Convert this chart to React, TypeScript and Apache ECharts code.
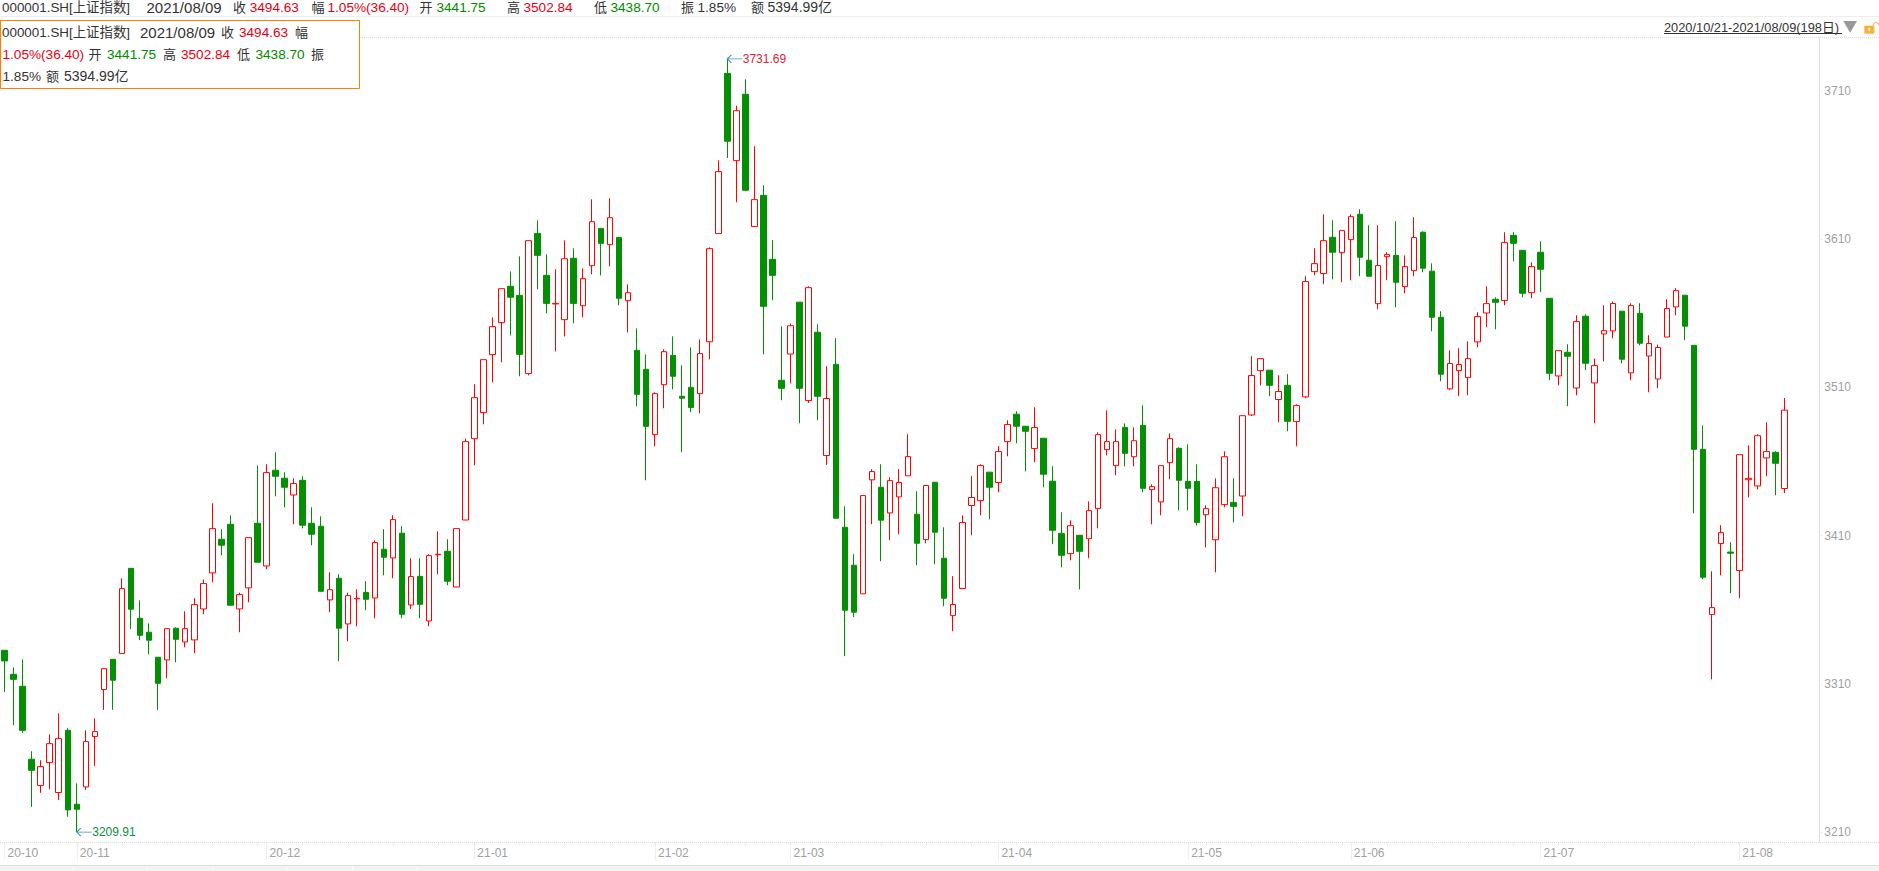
import React, { useEffect, useRef } from "react";
import * as echarts from "echarts";

const tradingDays: [string, number[]][] = [
  ["20-10", [21, 22, 23, 26, 27, 28, 29, 30]],
  ["20-11", [2, 3, 4, 5, 6, 9, 10, 11, 12, 13, 16, 17, 18, 19, 20, 23, 24, 25, 26, 27, 30]],
  ["20-12", [1, 2, 3, 4, 7, 8, 9, 10, 11, 14, 15, 16, 17, 18, 21, 22, 23, 24, 25, 28, 29, 30, 31]],
  ["21-01", [4, 5, 6, 7, 8, 11, 12, 13, 14, 15, 18, 19, 20, 21, 22, 25, 26, 27, 28, 29]],
  ["21-02", [1, 2, 3, 4, 5, 8, 9, 10, 18, 19, 22, 23, 24, 25, 26]],
  ["21-03", [1, 2, 3, 4, 5, 8, 9, 10, 11, 12, 15, 16, 17, 18, 19, 22, 23, 24, 25, 26, 29, 30, 31]],
  ["21-04", [1, 2, 6, 7, 8, 9, 12, 13, 14, 15, 16, 19, 20, 21, 22, 23, 26, 27, 28, 29, 30]],
  ["21-05", [6, 7, 10, 11, 12, 13, 14, 17, 18, 19, 20, 21, 24, 25, 26, 27, 28, 31]],
  ["21-06", [1, 2, 3, 4, 7, 8, 9, 10, 11, 15, 16, 17, 18, 21, 22, 23, 24, 25, 28, 29, 30]],
  ["21-07", [1, 2, 5, 6, 7, 8, 9, 12, 13, 14, 15, 16, 19, 20, 21, 22, 23, 26, 27, 28, 29, 30]],
  ["21-08", [2, 3, 4, 5, 6, 9]],
];
const weekStarts = [8, 13, 18, 23, 28, 33, 38, 43, 48, 52, 57, 62, 67, 72, 77, 80, 82, 87, 92, 97, 102, 107, 112, 116, 121, 126, 133, 138, 143, 148, 153, 158, 162, 167, 172, 177, 182, 187, 192, 197];
const priceTicks = [3210, 3310, 3410, 3510, 3610, 3710];
const lowestPoint = { index: 8, value: 3209.91 };
const highestPoint = { index: 80, value: 3731.69 };

// [open, close, low, high]
const k2010 = [[3332.6,3325.4,3304.5,3332.6],[3316.4,3313.0,3282.0,3321.1],[3308.3,3278.6,3276.8,3326.5],[3259.1,3251.6,3226.9,3264.5],[3241.3,3254.1,3236.4,3258.4],[3256.8,3269.6,3238.8,3275.9],[3236.6,3273.0,3231.6,3290.1],[3278.6,3224.9,3220.2,3280.0]];
const k2011 = [[3228.7,3225.3,3209.91,3242.9],[3240.4,3271.0,3238.4,3278.6],[3274.4,3277.7,3254.6,3286.7],[3306.1,3320.2,3292.4,3320.2],[3326.5,3312.4,3292.4,3326.5],[3330.4,3374.2,3330.4,3381.2],[3387.9,3360.3,3346.8,3387.9],[3354.2,3342.7,3339.4,3366.3],[3344.8,3339.4,3329.9,3350.8],[3327.9,3310.3,3292.4,3327.9],[3326.1,3347.2,3313.7,3347.2],[3347.5,3340.0,3324.5,3348.1],[3338.2,3347.2,3334.6,3358.9],[3339.6,3363.4,3330.6,3367.7],[3360.5,3377.6,3356.9,3380.3],[3384.8,3414.7,3378.5,3431.8],[3407.5,3403.5,3396.7,3414.3],[3417.6,3363.0,3363.0,3423.7],[3360.5,3370.2,3344.8,3371.5],[3374.7,3408.6,3365.0,3408.6],[3418.3,3392.0,3392.0,3457.4]];
const k2012 = [[3389.5,3452.5,3387.3,3458.1],[3454.1,3450.0,3436.5,3466.2],[3448.7,3442.6,3429.1,3452.7],[3437.4,3445.1,3417.6,3448.7],[3447.3,3417.0,3414.9,3450.0],[3418.3,3410.9,3403.5,3429.1],[3416.3,3372.4,3372.4,3423.0],[3366.6,3373.5,3358.3,3385.2],[3381.2,3347.5,3325.2,3383.9],[3350.4,3369.5,3338.7,3371.5],[3367.3,3367.7,3348.8,3373.8],[3371.7,3367.0,3359.6,3379.2],[3367.9,3405.3,3354.2,3406.8],[3400.8,3395.4,3383.2,3414.3],[3394.9,3420.8,3381.2,3423.7],[3411.6,3356.9,3354.2,3416.3],[3363.2,3382.3,3360.3,3394.7],[3382.5,3363.6,3354.2,3394.7],[3352.4,3396.5,3348.8,3397.4],[3397.0,3397.4,3383.9,3412.9],[3399.4,3379.2,3376.5,3407.5],[3375.3,3414.7,3375.3,3414.7],[3420.5,3473.4,3420.5,3475.4]];
const k2101 = [[3475.4,3503.1,3457.4,3512.1],[3493.0,3528.7,3485.1,3528.7],[3532.1,3551.0,3513.4,3557.3],[3553.7,3576.6,3526.9,3576.6],[3578.2,3570.8,3545.1,3588.3],[3572.1,3532.3,3517.5,3598.4],[3519.3,3609.0,3518.1,3609.0],[3613.9,3599.1,3576.2,3622.7],[3585.6,3566.7,3560.0,3599.8],[3566.3,3566.7,3534.3,3589.7],[3555.7,3596.8,3544.4,3609.2],[3597.1,3566.7,3553.2,3603.8],[3565.1,3583.4,3557.3,3590.3],[3592.1,3621.8,3586.3,3636.9],[3617.3,3607.2,3585.6,3617.3],[3606.3,3624.5,3591.7,3637.6],[3611.2,3570.1,3565.4,3611.2],[3568.5,3573.9,3547.1,3579.5],[3535.0,3505.3,3497.2,3549.8],[3522.2,3483.7,3447.3,3532.3]];
const k2102 = [[3478.1,3505.8,3470.2,3506.7],[3511.8,3534.1,3495.9,3535.7],[3531.6,3517.5,3508.7,3544.4],[3504.0,3502.7,3466.2,3524.9],[3510.0,3496.5,3493.2,3537.0],[3505.8,3532.8,3492.5,3542.4],[3540.8,3603.6,3528.9,3604.5],[3613.8,3655.6,3613.8,3663.2],[3721.9,3676.1,3664.8,3731.69],[3663.0,3696.7,3634.9,3700.1],[3707.8,3643.0,3643.0,3717.9],[3618.5,3636.7,3618.5,3672.7],[3639.6,3564.7,3532.3,3646.4],[3596.4,3585.6,3568.8,3609.3],[3514.8,3509.4,3501.3,3551.2]];
const k2103 = [[3532.5,3551.6,3512.7,3553.0],[3567.5,3509.4,3485.8,3567.5],[3501.1,3577.3,3499.5,3578.2],[3547.2,3504.0,3487.8,3552.6],[3464.0,3502.5,3457.7,3524.3],[3525.6,3421.7,3421.7,3543.2],[3415.6,3359.6,3328.6,3429.8],[3390.0,3358.3,3354.9,3397.4],[3370.7,3437.0,3370.7,3437.0],[3447.6,3453.2,3417.7,3454.8],[3442.6,3420.4,3392.7,3458.1],[3425.3,3447.1,3406.9,3449.4],[3436.1,3445.8,3410.9,3454.8],[3450.3,3463.3,3450.3,3478.4],[3424.4,3404.8,3390.0,3439.9],[3407.3,3443.8,3404.8,3443.8],[3446.0,3412.3,3390.7,3446.0],[3394.7,3367.7,3362.3,3415.6],[3356.0,3363.5,3345.5,3382.6],[3374.3,3418.8,3374.3,3423.7],[3430.3,3435.7,3410.2,3450.1],[3433.6,3457.2,3423.7,3458.1],[3452.8,3442.6,3421.0,3452.8]];
const k2104 = [[3445.8,3466.7,3439.3,3470.3],[3473.4,3484.9,3463.5,3487.8],[3491.9,3483.8,3472.3,3493.9],[3483.8,3480.4,3453.4,3483.8],[3468.7,3482.9,3459.5,3496.6],[3475.7,3451.4,3442.6,3475.7],[3446.7,3413.6,3404.2,3456.8],[3411.5,3396.7,3388.6,3425.7],[3397.8,3416.7,3393.3,3420.3],[3410.2,3399.4,3373.7,3410.2],[3407.9,3426.8,3394.7,3433.1],[3428.2,3478.1,3414.9,3479.7],[3468.0,3473.4,3464.1,3494.5],[3457.2,3473.4,3450.7,3481.7],[3483.0,3465.5,3456.7,3485.7],[3463.2,3474.0,3456.7,3483.0],[3484.4,3441.9,3439.2,3497.9],[3441.0,3443.0,3417.6,3444.6],[3432.7,3457.2,3423.7,3457.2],[3459.2,3475.4,3448.0,3479.0],[3468.9,3447.3,3427.0,3469.5]];
const k2105 = [[3446.6,3441.9,3427.0,3471.6],[3446.6,3418.9,3416.9,3458.1],[3424.1,3428.2,3402.1,3430.4],[3407.2,3442.3,3385.2,3448.6],[3430.9,3463.2,3429.1,3466.8],[3432.4,3429.7,3418.9,3448.6],[3436.7,3490.9,3423.0,3490.9],[3491.4,3518.0,3490.7,3531.0],[3521.3,3529.4,3511.4,3529.4],[3521.6,3511.4,3504.0,3521.6],[3501.8,3507.2,3486.5,3518.2],[3511.4,3487.1,3480.4,3518.9],[3486.9,3497.7,3470.3,3498.6],[3503.6,3581.4,3502.7,3585.0],[3588.1,3593.5,3585.7,3603.9],[3586.8,3609.0,3579.6,3626.8],[3611.3,3601.2,3583.0,3622.8],[3600.9,3615.8,3580.9,3615.8]];
const k2106 = [[3609.7,3625.2,3582.3,3626.8],[3626.8,3597.8,3585.0,3630.2],[3595.8,3585.0,3585.0,3619.4],[3566.5,3592.2,3562.7,3619.4],[3598.2,3599.6,3582.3,3601.2],[3599.1,3580.9,3564.1,3622.1],[3578.0,3591.5,3573.5,3599.1],[3588.8,3611.1,3585.0,3624.8],[3614.7,3590.4,3587.7,3615.3],[3588.4,3557.3,3547.9,3593.7],[3557.3,3518.9,3514.1,3561.4],[3509.0,3526.1,3508.1,3535.0],[3521.3,3525.4,3504.0,3536.4],[3516.6,3529.4,3504.7,3541.1],[3540.7,3557.8,3537.1,3560.7],[3560.2,3566.5,3550.6,3578.2],[3569.5,3567.4,3549.2,3570.8],[3568.6,3607.7,3565.4,3614.7],[3612.6,3607.2,3595.1,3614.7],[3602.5,3573.5,3570.8,3602.5],[3573.9,3591.5,3570.1,3594.4]];
const k2107 = [[3601.2,3589.7,3574.2,3608.6],[3570.1,3519.5,3514.8,3570.1],[3517.7,3534.8,3511.4,3534.8],[3533.7,3531.0,3497.3,3539.1],[3509.6,3554.4,3504.7,3558.7],[3558.0,3526.3,3521.6,3559.3],[3513.0,3524.7,3485.8,3529.4],[3546.1,3548.3,3527.6,3565.4],[3548.1,3566.6,3543.1,3567.9],[3561.4,3529.0,3526.3,3561.4],[3519.8,3565.2,3514.8,3566.8],[3560.0,3539.8,3538.4,3566.8],[3531.2,3539.6,3506.7,3545.2],[3515.7,3536.9,3509.4,3538.9],[3544.0,3563.2,3544.0,3569.5],[3564.3,3575.3,3558.7,3576.9],[3572.2,3551.3,3541.8,3572.2],[3538.4,3468.2,3425.0,3538.4],[3468.2,3381.9,3380.5,3484.4],[3356.7,3361.4,3313.0,3385.9],[3404.6,3412.0,3383.2,3417.0],[3398.9,3398.1,3371.1,3405.5]];
const k2108 = [[3386.4,3464.6,3367.7,3464.6],[3447.7,3448.6,3435.8,3470.9],[3443.5,3477.4,3441.2,3478.3],[3462.4,3466.7,3450.0,3486.4],[3466.2,3458.8,3437.2,3466.9],[3441.75,3494.63,3438.70,3502.84]];

const candles = [...k2010, ...k2011, ...k2012, ...k2101, ...k2102, ...k2103, ...k2104, ...k2105, ...k2106, ...k2107, ...k2108];
const categories = tradingDays.flatMap(([m, days]) => days.map((d) => `${m}-${String(d).padStart(2, "0")}`));
const monthStarts = tradingDays.map((_, i) => tradingDays.slice(0, i).reduce((s, [, d]) => s + d.length, 0));

const TXT = "#333333";
const RED = "#e60012";
const GRN = "#008a00";
const FONT = "'Liberation Sans','Noto Sans CJK SC',sans-serif";

// [text, x, y, colour]
const headerTexts: [string, number, number, string][] = [
  ["000001.SH[上证指数]", 2, 7, TXT], ["2021/08/09", 146.5, 7, TXT], ["收", 233, 7, TXT], ["3494.63", 249.7, 7, RED],
  ["幅", 311.5, 7, TXT], ["1.05%(36.40)", 327.5, 7, RED], ["开", 419.5, 7, TXT], ["3441.75", 436.5, 7, GRN],
  ["高", 507, 7, TXT], ["3502.84", 523.5, 7, RED], ["低", 594, 7, TXT], ["3438.70", 610.5, 7, GRN],
  ["振", 681, 7, TXT], ["1.85%", 697.5, 7, TXT], ["额", 751, 7, TXT], ["5394.99亿", 767.5, 7, TXT],
  ["000001.SH[上证指数]", 2, 32, TXT], ["2021/08/09", 140, 32, TXT], ["收", 221, 32, TXT], ["3494.63", 239, 32, RED], ["幅", 295, 32, TXT],
  ["1.05%(36.40)", 2.5, 54, RED], ["开", 88.5, 54, TXT], ["3441.75", 107, 54, GRN], ["高", 163, 54, TXT], ["3502.84", 181, 54, RED],
  ["低", 237, 54, TXT], ["3438.70", 255.5, 54, GRN], ["振", 311, 54, TXT],
  ["1.85%", 2.5, 76, TXT], ["额", 46, 76, TXT], ["5394.99亿", 64, 76, TXT],
];
const tabEdges = [73, 146, 213, 286, 352, 417];

const sizeOf = (t: string) => (t.includes("/") ? 15 : t.includes("[") ? 13.4 : t.length === 1 ? 13 : t.includes("亿") ? 14 : 13.6);

export default function App() {
  const ref = useRef<HTMLDivElement>(null);
  useEffect(() => {
    const chart = echarts.init(ref.current!, null, { renderer: "svg" });
    const dotted = { color: "#dcdcdc", type: "dotted" as const, width: 1 };
    const arrow = "path://M4 0 L0 4 L4 8 M0 4 L15 4";
    const markLabel = (color: string) => ({ show: true, position: "right" as const, distance: -3, color, fontSize: 12, fontFamily: FONT });
    chart.setOption({
      animation: false,
      backgroundColor: "#ffffff",
      grid: { left: 0, top: 37.5, width: 1789, height: 805, containLabel: false },
      xAxis: [
        {
          type: "category", data: categories, position: "bottom", boundaryGap: true,
          axisLine: { show: true, lineStyle: { color: "#ffffff", opacity: 0 } },
          axisTick: { show: true, alignWithLabel: true, length: 3, interval: (i: number) => weekStarts.includes(i), lineStyle: dotted },
          axisLabel: { show: false },
          splitLine: { show: false },
        },
        {
          type: "category", data: categories, position: "bottom", boundaryGap: true,
          axisLine: { show: false },
          axisTick: { show: true, alignWithLabel: true, length: 18, interval: (i: number) => monthStarts.includes(i), lineStyle: dotted },
          axisLabel: {
            show: true, interval: (i: number) => monthStarts.includes(i), formatter: (v: string) => v.slice(0, 5),
            align: "left", margin: 4, padding: [0, 0, 0, 3], color: "#a0a0a0", fontSize: 12, fontFamily: FONT, hideOverlap: false,
          },
          splitLine: { show: false },
        },
      ],
      yAxis: {
        type: "value", position: "right", offset: 30.3, min: 3202.9, max: 3746.1, scale: true,
        axisLine: { show: true, lineStyle: dotted },
        axisTick: { show: true, length: 4, customValues: priceTicks, lineStyle: dotted },
        axisLabel: { show: true, customValues: priceTicks, margin: 5, color: "#a0a0a0", fontSize: 12, fontFamily: FONT, formatter: (v: number) => String(v) },
        splitLine: { show: false },
      },
      series: [
        {
          type: "candlestick", data: candles, barWidth: 6, clip: false,
          itemStyle: { color: "#ffffff", color0: "#058f05", borderColor: "#ff0000", borderColor0: "#058f05", borderWidth: 1 },
          markPoint: {
            silent: true, symbol: arrow, symbolSize: [15, 8], symbolOffset: [7.5, 0],
            itemStyle: { color: "none", borderColor: "#3e93b5", borderWidth: 1 },
            data: [
              { coord: [lowestPoint.index, lowestPoint.value], label: { ...markLabel("#0a8f3a"), formatter: String(lowestPoint.value) } },
              { coord: [highestPoint.index, highestPoint.value], label: { ...markLabel("#e0203a"), formatter: String(highestPoint.value) } },
            ],
          },
        },
      ],
      graphic: [
        { type: "line", silent: true, shape: { x1: 0, y1: 16.5, x2: 1879, y2: 16.5 }, style: { stroke: "#eeeeee", lineWidth: 1 } },
        { type: "line", silent: true, shape: { x1: 360, y1: 37.5, x2: 1879, y2: 37.5 }, style: { stroke: "#dcdcdc", lineWidth: 1, lineDash: [1, 1] } },
        { type: "line", silent: true, shape: { x1: 0, y1: 842.5, x2: 1879, y2: 842.5 }, style: { stroke: "#dcdcdc", lineWidth: 1, lineDash: [1, 1] } },
        { type: "rect", silent: true, z: 50, shape: { x: 0.5, y: 20.5, width: 359, height: 68 }, style: { fill: "#ffffff", stroke: "#ff8000", lineWidth: 1 } },
        ...headerTexts.map(([text, x, y, color]) => ({
          type: "text", silent: true, z: 60, x, y,
          style: { text, fill: color, fontSize: sizeOf(text), fontFamily: FONT, textVerticalAlign: "middle", textAlign: "left" },
        })),
        { type: "text", silent: true, z: 60, x: 1664, y: 27, style: { text: "2020/10/21-2021/08/09(198日)", fill: TXT, fontSize: 12.8, fontFamily: FONT, textVerticalAlign: "middle" } },
        { type: "line", silent: true, shape: { x1: 1664, y1: 33.5, x2: 1842, y2: 33.5 }, style: { stroke: "#333333", lineWidth: 1 } },
        { type: "polygon", silent: true, shape: { points: [[1843.3, 21], [1857, 21], [1850.2, 32.7]] }, style: { fill: "#999999" } },
        { type: "rect", silent: true, shape: { x: 1864.3, y: 25.7, width: 10, height: 8 }, style: { fill: "#f3b33d" } },
        { type: "rect", silent: true, shape: { x: 1868.5, y: 28, width: 1.6, height: 3 }, style: { fill: "#ffffff" } },
        { type: "arc", silent: true, shape: { cx: 1876, cy: 25.5, r: 3, startAngle: Math.PI, endAngle: 2 * Math.PI }, style: { stroke: "#f3b33d", lineWidth: 1, fill: "none" } },
        { type: "rect", silent: true, shape: { x: 0, y: 866, width: 1879, height: 5 }, style: { fill: "#f3f3f3" } },
        { type: "line", silent: true, shape: { x1: 0, y1: 865.5, x2: 1879, y2: 865.5 }, style: { stroke: "#dddddd", lineWidth: 1 } },
        ...tabEdges.map((x) => ({ type: "line", silent: true, shape: { x1: x + 0.5, y1: 866, x2: x + 0.5, y2: 871 }, style: { stroke: "#ffffff", lineWidth: 1 } })),
      ],
    });
    return () => chart.dispose();
  }, []);
  return <div ref={ref} style={{ position: "fixed", left: 0, top: 0, width: 1879, height: 871 }} />;
}
